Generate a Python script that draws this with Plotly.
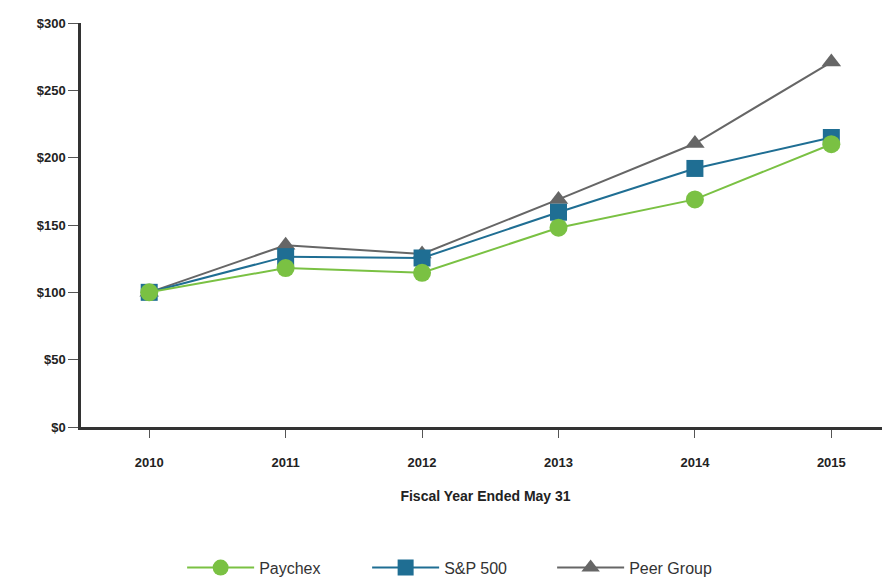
import plotly.graph_objects as go

years = [2010, 2011, 2012, 2013, 2014, 2015]
paychex = [100, 118, 114.5, 148, 169, 210]
sp500 = [100, 126.5, 125.5, 159.5, 192, 215]
peer = [100, 135, 128.5, 169, 210.5, 271]
y_ticks = [0, 50, 100, 150, 200, 250, 300]
y_tick_labels = ["$0", "$50", "$100", "$150", "$200", "$250", "$300"]

fig = go.Figure()
fig.add_trace(go.Scatter(x=years, y=peer, name="Peer Group", mode="lines+markers",
                         line=dict(color="#666666", width=2),
                         marker=dict(symbol="triangle-up", size=17, color="#666666")))
fig.add_trace(go.Scatter(x=years, y=sp500, name="S&P 500", mode="lines+markers",
                         line=dict(color="#1f6e93", width=2),
                         marker=dict(symbol="square", size=17, color="#1f6e93")))
fig.add_trace(go.Scatter(x=years, y=paychex, name="Paychex", mode="lines+markers",
                         line=dict(color="#7ac143", width=2),
                         marker=dict(symbol="circle", size=18, color="#7ac143")))

fam = "Liberation Sans, Arial, sans-serif"

fig.update_layout(
    width=890, height=577,
    margin=dict(l=73, r=8, t=13, b=158),
    plot_bgcolor="white", paper_bgcolor="white",
    showlegend=True,
    legend=dict(orientation="h", x=0.125, xanchor="left", yref="container", y=0.03, yanchor="middle",
                traceorder="reversed", itemwidth=67, entrywidth=103, entrywidthmode="pixels",
                font=dict(family=fam, size=16, color="#333333")),
    xaxis=dict(range=[2009.5, 2015.43], tickvals=years, ticktext=["<b>%d</b>" % y for y in years],
               showgrid=False, zeroline=False, showline=True, linecolor="#333333", linewidth=2.5,
               ticks="outside", ticklen=8, tickcolor="#555555", tickwidth=1,
               ticklabelstandoff=14,
               tickfont=dict(family=fam, size=13, color="#222222"),
               title=dict(text="<b>Fiscal Year Ended May 31</b>", standoff=22,
                          font=dict(family=fam, size=14, color="#222222"))),
    yaxis=dict(range=[0, 300], tickvals=y_ticks, ticktext=["<b>%s</b>" % t for t in y_tick_labels],
               showgrid=False, zeroline=False, showline=True, linecolor="#333333", linewidth=2.5,
               ticks="outside", ticklen=10, tickcolor="#555555", tickwidth=1,
               ticklabelstandoff=0,
               tickfont=dict(family=fam, size=13, color="#222222")),
)

fig.write_html("out.html")
